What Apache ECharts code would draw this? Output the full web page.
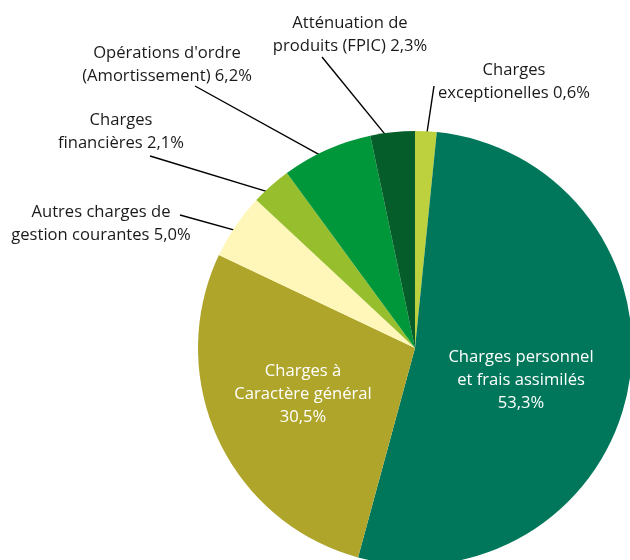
<!DOCTYPE html>
<html>
<head>
<meta charset="utf-8">
<script src="https://cdn.jsdelivr.net/npm/echarts@6/dist/echarts.min.js"></script>
<style>
  html, body { margin: 0; padding: 0; background: #fff; }
  #chart { width: 630px; height: 560px; }
</style>
</head>
<body>
<div id="chart"></div>
<script>
// slices clockwise from 12 o'clock
var names = [
    'Charges\nexceptionelles',
    'Charges personnel\net frais assimilés',
    'Charges à\nCaractère général',
    'Autres charges de\ngestion courantes',
    'Charges\nfinancières',
    "Opérations d'ordre\n(Amortissement)",
    'Atténuation de\nproduits (FPIC)'
];
// printed percentages
var shares = [0.6, 53.3, 30.5, 5.0, 2.1, 6.2, 2.3];
// slice sizes as drawn in the picture
var sliceSizes = [1.6, 52.6, 27.8, 4.9, 3.0, 6.75, 3.3];
var colors = ['#bdd13f', '#00775a', '#afa52a', '#fff7b9', '#97be2d', '#00963a', '#055e2a'];
var inside = [false, true, true, false, false, false, false];

// label block centres and leader line starts (layout only)
var labelSpots = [
    {x: 514, y: 82, lx: 434, ly: 86},
    {x: 521, y: 380},
    {x: 303, y: 394},
    {x: 101, y: 224, lx: 180, ly: 215},
    {x: 121, y: 132, lx: 150, ly: 156},
    {x: 167, y: 65, lx: 195, ly: 86},
    {x: 350, y: 35, lx: 322, ly: 57}
];

var center = [415, 348];
var radius = 217;

function fmt(v) {
    return v.toFixed(1).replace('.', ',') + '%';
}

var chart = echarts.init(document.getElementById('chart'));

var data = names.map(function (n, i) {
    var lastBreak = inside[i] ? '\n' : ' ';
    return {
        name: n,
        value: sliceSizes[i],
        itemStyle: {color: colors[i]},
        label: {
            formatter: n + lastBreak + fmt(shares[i]),
            color: inside[i] ? '#ffffff' : '#1a1a1a'
        },
        labelLine: {show: !inside[i]}
    };
});

chart.setOption({
    animation: false,
    series: [{
        type: 'pie',
        center: center,
        radius: radius,
        startAngle: 90,
        clockwise: true,
        avoidLabelOverlap: false,
        silent: true,
        data: data,
        label: {
            show: true,
            position: 'outside',
            fontFamily: 'Open Sans',
            fontSize: 16.6,
            lineHeight: 23,
            align: 'center'
        },
        labelLine: {
            length: 10,
            length2: 10,
            lineStyle: {color: '#000', width: 1.4}
        },
        labelLayout: function (params) {
            var s = labelSpots[params.dataIndex];
            var out = {x: s.x, y: s.y, align: 'center', verticalAlign: 'middle'};
            var pts = params.labelLinePoints;
            if (s.lx != null && pts && pts.length) {
                var dx = pts[0][0] - center[0];
                var dy = pts[0][1] - center[1];
                var len = Math.sqrt(dx * dx + dy * dy);
                var k = (len - 13) / len;
                var end = [center[0] + dx * k, center[1] + dy * k];
                out.labelLinePoints = [[s.lx, s.ly], end, end];
            }
            return out;
        }
    }]
});
</script>
</body>
</html>
